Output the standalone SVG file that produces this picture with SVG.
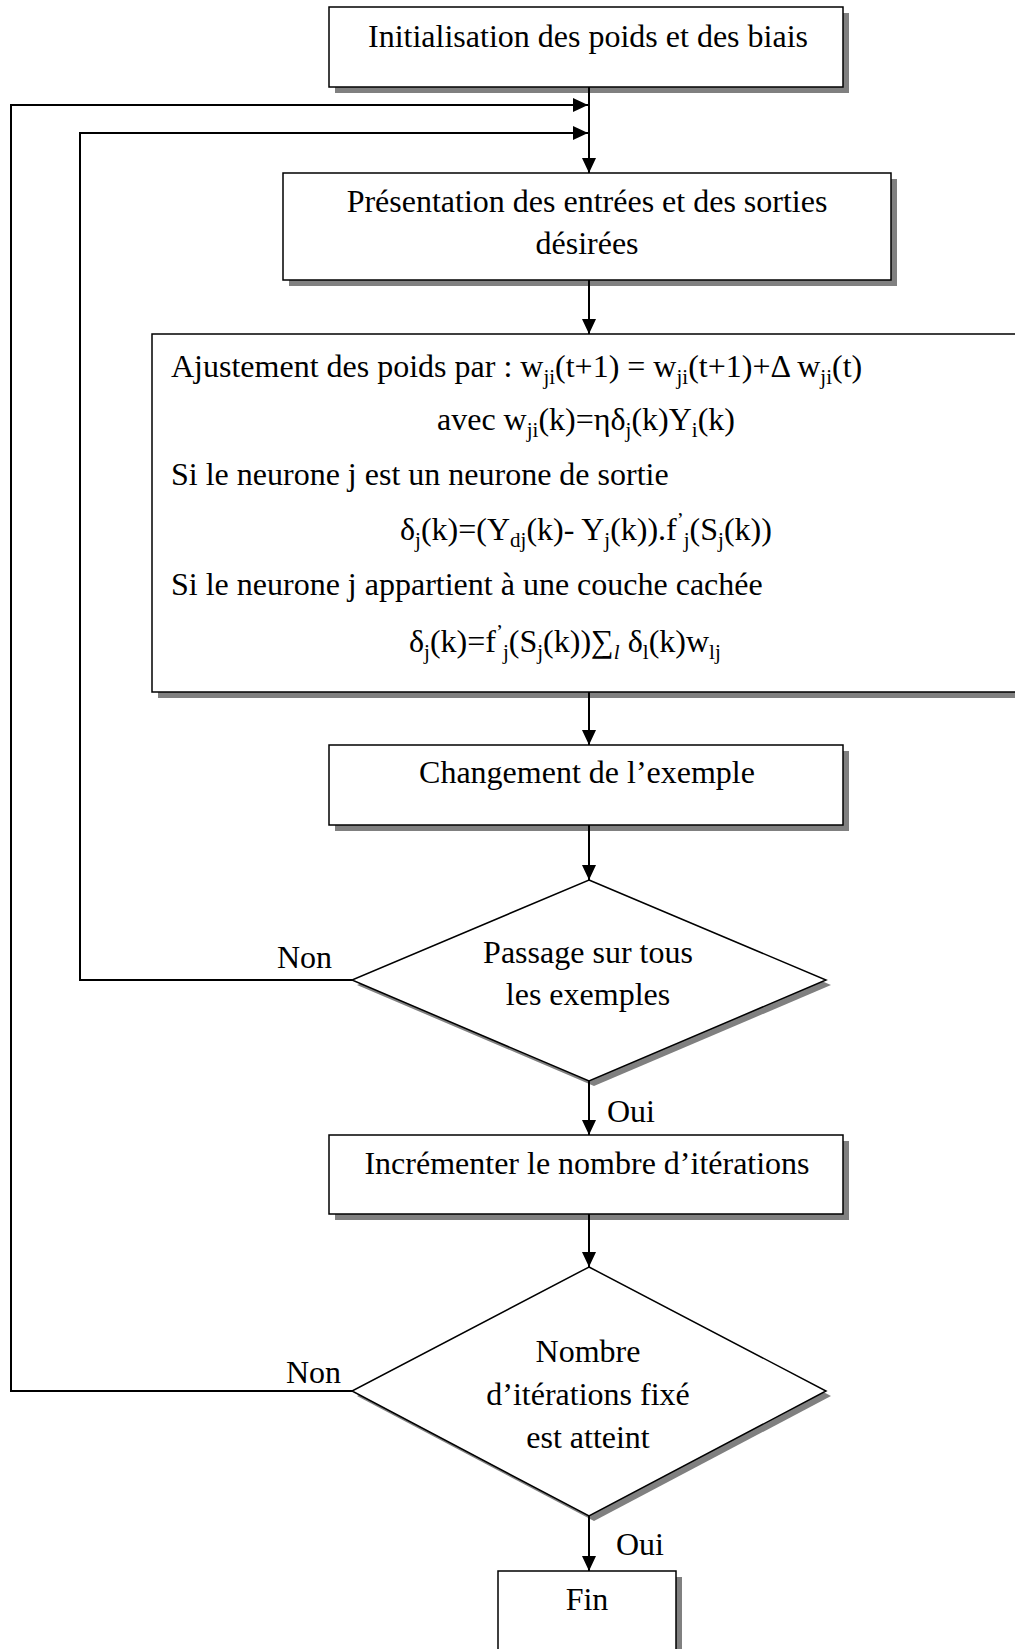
<svg xmlns="http://www.w3.org/2000/svg" width="1015" height="1649" viewBox="0 0 1015 1649">
  <defs>
    <style>
      text { font-family: "Liberation Serif", "Times New Roman", serif; font-size: 32px; fill: #000; }
      .c { text-anchor: middle; }
      .sb { font-size: 21px; }
      .it { font-style: italic; }
      .box { fill: #fff; stroke: #000; stroke-width: 1.5; }
      .shadow { fill: #808080; stroke: none; }
      .link { fill: none; stroke: #000; stroke-width: 2; }
    </style>
    <marker id="arrow" viewBox="0 0 15 14" refX="15" refY="7" markerWidth="15" markerHeight="14" markerUnits="userSpaceOnUse" orient="auto">
      <path d="M0,0 L15,7 L0,14 z" fill="#000"/>
    </marker>
  </defs>

  <rect width="1015" height="1649" fill="#fff"/>

  <!-- initialisation -->
  <g id="init">
    <rect class="shadow" x="335" y="13" width="514" height="80"/>
    <rect class="box" x="329" y="7" width="514" height="80"/>
    <text class="c" x="588" y="47">Initialisation des poids et des biais</text>
  </g>

  <!-- presentation of inputs / desired outputs -->
  <g id="presentation">
    <rect class="shadow" x="289" y="179" width="608" height="107"/>
    <rect class="box" x="283" y="173" width="608" height="107"/>
    <text class="c" x="587" y="212">Présentation des entrées et des sorties</text>
    <text class="c" x="587" y="254">désirées</text>
  </g>

  <!-- weight update rules -->
  <g id="ajustement">
    <rect class="shadow" x="158" y="340" width="880" height="358"/>
    <rect class="box" x="152" y="334" width="880" height="358"/>
    <text x="171" y="377">Ajustement des poids par : w<tspan class="sb" dy="7">ji</tspan><tspan dy="-7">(t+1) = w</tspan><tspan class="sb" dy="7">ji</tspan><tspan dy="-7">(t+1)+Δ w</tspan><tspan class="sb" dy="7">ji</tspan><tspan dy="-7">(t)</tspan></text>
    <text x="437" y="430">avec w<tspan class="sb" dy="7">ji</tspan><tspan dy="-7">(k)=ηδ</tspan><tspan class="sb" dy="7">j</tspan><tspan dy="-7">(k)Y</tspan><tspan class="sb" dy="7">i</tspan><tspan dy="-7">(k)</tspan></text>
    <text x="171" y="485">Si le neurone j est un neurone de sortie</text>
    <text x="400" y="540">δ<tspan class="sb" dy="7">j</tspan><tspan dy="-7">(k)=(Y</tspan><tspan class="sb" dy="7">dj</tspan><tspan dy="-7">(k)- Y</tspan><tspan class="sb" dy="7">j</tspan><tspan dy="-7">(k)).f</tspan><tspan class="sb" dy="-13">’</tspan><tspan class="sb" dy="20">j</tspan><tspan dy="-7">(S</tspan><tspan class="sb" dy="7">j</tspan><tspan dy="-7">(k))</tspan></text>
    <text x="171" y="595">Si le neurone j appartient à une couche cachée</text>
    <text x="409" y="652">δ<tspan class="sb" dy="7">j</tspan><tspan dy="-7">(k)=f</tspan><tspan class="sb" dy="-13">’</tspan><tspan class="sb" dy="20">j</tspan><tspan dy="-7">(S</tspan><tspan class="sb" dy="7">j</tspan><tspan dy="-7">(k))∑</tspan><tspan class="sb it" dy="7">l</tspan><tspan dy="-7"> δ</tspan><tspan class="sb" dy="7">l</tspan><tspan dy="-7">(k)w</tspan><tspan class="sb" dy="7">lj</tspan></text>
  </g>

  <!-- next example -->
  <g id="changement">
    <rect class="shadow" x="335" y="751" width="514" height="80"/>
    <rect class="box" x="329" y="745" width="514" height="80"/>
    <text class="c" x="587" y="783">Changement de l’exemple</text>
  </g>

  <!-- test: all examples seen -->
  <g id="passage">
    <polygon class="shadow" points="594,885 831,985 594,1086 357,985"/>
    <polygon class="box" points="589,880 826,980 589,1081 352,980"/>
    <text class="c" x="588" y="963">Passage sur tous</text>
    <text class="c" x="588" y="1005">les exemples</text>
  </g>

  <!-- iteration counter -->
  <g id="increment">
    <rect class="shadow" x="335" y="1141" width="514" height="79"/>
    <rect class="box" x="329" y="1135" width="514" height="79"/>
    <text class="c" x="587" y="1174">Incrémenter le nombre d’itérations</text>
  </g>

  <!-- test: iteration count reached -->
  <g id="nombre">
    <polygon class="shadow" points="594,1272 831,1396 594,1521 357,1396"/>
    <polygon class="box" points="589,1267 826,1391 589,1516 352,1391"/>
    <text class="c" x="588" y="1362">Nombre</text>
    <text class="c" x="588" y="1405">d’itérations fixé</text>
    <text class="c" x="588" y="1448">est atteint</text>
  </g>

  <!-- end -->
  <g id="fin">
    <rect class="shadow" x="504" y="1577" width="178" height="100"/>
    <rect class="box" x="498" y="1571" width="178" height="100"/>
    <text class="c" x="587" y="1610">Fin</text>
  </g>

  <!-- connectors -->
  <g id="connectors">
    <line class="link" x1="589" y1="87" x2="589" y2="173" marker-end="url(#arrow)"/>
    <line class="link" x1="589" y1="280" x2="589" y2="334" marker-end="url(#arrow)"/>
    <line class="link" x1="589" y1="692" x2="589" y2="745" marker-end="url(#arrow)"/>
    <line class="link" x1="589" y1="825" x2="589" y2="880" marker-end="url(#arrow)"/>
    <line class="link" x1="589" y1="1081" x2="589" y2="1135" marker-end="url(#arrow)"/>
    <line class="link" x1="589" y1="1214" x2="589" y2="1267" marker-end="url(#arrow)"/>
    <line class="link" x1="589" y1="1516" x2="589" y2="1571" marker-end="url(#arrow)"/>
    <polyline class="link" points="352,980 80,980 80,133 588,133" marker-end="url(#arrow)"/>
    <polyline class="link" points="352,1391 11,1391 11,105 588,105" marker-end="url(#arrow)"/>
    <text x="277" y="968">Non</text>
    <text x="607" y="1122">Oui</text>
    <text x="286" y="1383">Non</text>
    <text x="616" y="1555">Oui</text>
  </g>
</svg>
